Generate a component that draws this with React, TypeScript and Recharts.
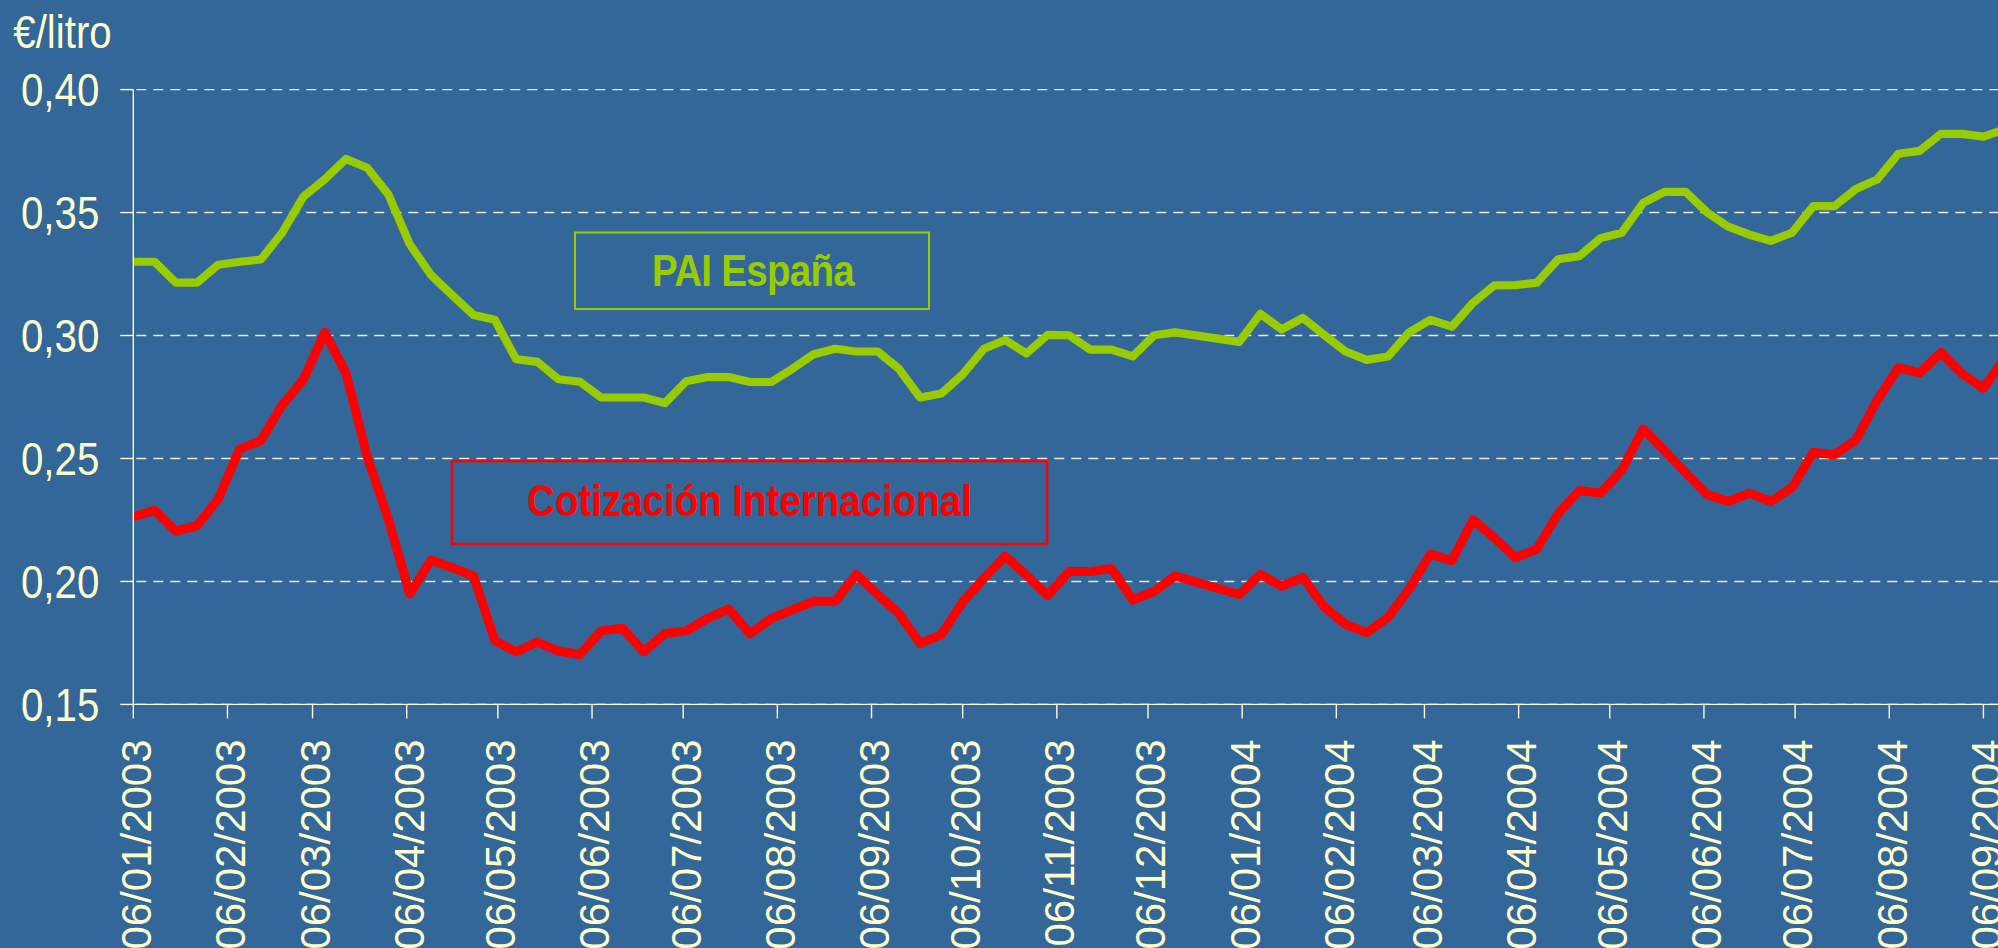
import React from "react";
import { LineChart, Line, XAxis, YAxis, CartesianGrid } from "recharts";

// Weekly quotation dates (DD/MM/YYYY)
const dates: string[] = [
  "06/01/2003", "13/01/2003", "20/01/2003", "27/01/2003", "03/02/2003", "10/02/2003", "17/02/2003", "24/02/2003",
  "03/03/2003", "10/03/2003", "17/03/2003", "24/03/2003", "31/03/2003", "07/04/2003", "14/04/2003", "21/04/2003",
  "28/04/2003", "05/05/2003", "12/05/2003", "19/05/2003", "26/05/2003", "02/06/2003", "09/06/2003", "16/06/2003",
  "23/06/2003", "30/06/2003", "07/07/2003", "14/07/2003", "21/07/2003", "28/07/2003", "04/08/2003", "11/08/2003",
  "18/08/2003", "25/08/2003", "01/09/2003", "08/09/2003", "15/09/2003", "22/09/2003", "29/09/2003", "06/10/2003",
  "13/10/2003", "20/10/2003", "27/10/2003", "03/11/2003", "10/11/2003", "17/11/2003", "24/11/2003", "01/12/2003",
  "08/12/2003", "15/12/2003", "05/01/2004", "12/01/2004", "19/01/2004", "26/01/2004", "02/02/2004", "09/02/2004",
  "16/02/2004", "23/02/2004", "01/03/2004", "08/03/2004", "15/03/2004", "22/03/2004", "29/03/2004", "05/04/2004",
  "12/04/2004", "19/04/2004", "26/04/2004", "03/05/2004", "10/05/2004", "17/05/2004", "24/05/2004", "31/05/2004",
  "07/06/2004", "14/06/2004", "21/06/2004", "28/06/2004", "05/07/2004", "12/07/2004", "19/07/2004", "26/07/2004",
  "02/08/2004", "09/08/2004", "16/08/2004", "23/08/2004", "30/08/2004", "06/09/2004", "13/09/2004",
];

// PAI España (€/litro)
const paiEspana: number[] = [
  0.330, 0.330, 0.3215, 0.3215, 0.3288, 0.330, 0.3309, 0.3418,
  0.3565, 0.3635, 0.3718, 0.3682, 0.3573, 0.3371, 0.3246, 0.3164,
  0.3083, 0.3064, 0.2904, 0.2893, 0.2822, 0.2812, 0.2748, 0.2748,
  0.2748, 0.2725, 0.2814, 0.2831, 0.2831, 0.2811, 0.2811, 0.2865,
  0.2924, 0.2946, 0.2935, 0.2935, 0.2865, 0.2748, 0.2764, 0.2842,
  0.2946, 0.2982, 0.2927, 0.3003, 0.3001, 0.2943, 0.2943, 0.2915,
  0.3001, 0.3013, 0.2974, 0.3088, 0.3025, 0.3072, 0.3002, 0.2935,
  0.2901, 0.2915, 0.3013, 0.3064, 0.3036, 0.3133, 0.3204, 0.3205,
  0.3215, 0.3310, 0.3323, 0.3396, 0.3418, 0.3539, 0.3584, 0.3584,
  0.3501, 0.3443, 0.3410, 0.3385, 0.3418, 0.3526, 0.3526, 0.3596,
  0.3634, 0.3739, 0.3751, 0.3820, 0.3820, 0.3809, 0.3838,
];

// Cotización Internacional (€/litro)
const cotizacion: number[] = [
  0.2263, 0.2289, 0.2204, 0.2227, 0.2336, 0.2538, 0.2573, 0.2717,
  0.2822, 0.3013, 0.2847, 0.2507, 0.2251, 0.1950, 0.2087, 0.2056,
  0.2022, 0.1760, 0.1714, 0.1753, 0.1717, 0.1703, 0.1799, 0.1810,
  0.1714, 0.1788, 0.1799, 0.1850, 0.1888, 0.1787, 0.1850, 0.1885,
  0.1919, 0.1919, 0.2028, 0.1947, 0.1869, 0.1748, 0.1784, 0.1916,
  0.2013, 0.2103, 0.2025, 0.1943, 0.2040, 0.2040, 0.2053, 0.1924,
  0.1960, 0.2022, 0.1947, 0.2028, 0.1981, 0.2017, 0.1897, 0.1826,
  0.1792, 0.1854, 0.1970, 0.2111, 0.2084, 0.2251, 0.2177, 0.2097,
  0.2132, 0.2276, 0.2370, 0.2359, 0.2453, 0.2620, 0.2532, 0.2442,
  0.2354, 0.2325, 0.2359, 0.2325, 0.2382, 0.2525, 0.2515, 0.2575,
  0.2736, 0.2869, 0.2848, 0.2931, 0.2844, 0.2786, 0.2907,
];

// X tick labels
const xTickLabels: string[] = [
  "06/01/2003", "06/02/2003", "06/03/2003", "06/04/2003", "06/05/2003", "06/06/2003", "06/07/2003",
  "06/08/2003", "06/09/2003", "06/10/2003", "06/11/2003", "06/12/2003", "06/01/2004", "06/02/2004",
  "06/03/2004", "06/04/2004", "06/05/2004", "06/06/2004", "06/07/2004", "06/08/2004", "06/09/2004",
];

const yTicks: number[] = [0.15, 0.2, 0.25, 0.3, 0.35, 0.4];

const DAY0 = Date.UTC(2003, 0, 6);
const toDay = (s: string): number => {
  const [d, m, y] = s.split("/").map(Number);
  return (Date.UTC(y, m - 1, d) - DAY0) / 86400000;
};

const data = dates.map((s, i) => ({
  d: toDay(s),
  pai: paiEspana[i],
  cot: cotizacion[i],
}));

const tickDays = xTickLabels.map(toDay);
const tickLabelByDay = new Map<number, string>(xTickLabels.map((l) => [toDay(l), l]));

const FONT = "'Liberation Sans', Arial, Helvetica, sans-serif";
const TEXT = "#FFFFCC";
const BG = "#336699";
const GREEN = "#99CC00";
const RED = "#FF0000";
const SQUEEZE = 0.875;

const XTick = (props: any) => {
  const { x, y, payload } = props;
  const tx = x + 17.4;
  const ty = y + 21;
  return (
    <text
      x={tx}
      y={ty}
      transform={`rotate(-90 ${tx} ${ty})`}
      textAnchor="end"
      fill={TEXT}
      fontSize={42}
      fontFamily={FONT}
    >
      {tickLabelByDay.get(payload.value) ?? ""}
    </text>
  );
};

const YTick = (props: any) => {
  const { x, y, payload } = props;
  return (
    <text
      transform={`translate(${x} ${y}) scale(${SQUEEZE} 1)`}
      x={0}
      y={0}
      dy="0.355em"
      textAnchor="end"
      fill={TEXT}
      fontSize={46}
      fontFamily={FONT}
    >
      {Number(payload.value).toFixed(2).replace(".", ",")}
    </text>
  );
};

export default function App() {
  return (
    <div
      style={{
        position: "fixed",
        left: 0,
        top: 0,
        width: 1998,
        height: 948,
        background: BG,
        overflow: "hidden",
      }}
    >
      <LineChart
        width={1998}
        height={948}
        data={data}
        margin={{ top: 89.6, right: 0, bottom: 0, left: 0 }}
      >
        <CartesianGrid
          vertical={false}
          stroke="#ECECD6"
          strokeWidth={1.4}
          strokeDasharray="10 7"
          strokeDashoffset={-3}
        />
        <XAxis
          dataKey="d"
          type="number"
          domain={[0, 613.8]}
          allowDataOverflow
          ticks={tickDays}
          interval={0}
          height={243.6}
          tickSize={14}
          tickMargin={0}
          axisLine={{ stroke: TEXT, strokeWidth: 1.4 }}
          tickLine={{ stroke: TEXT, strokeWidth: 1.4 }}
          tick={(p: any) => <XTick {...p} />}
        />
        <YAxis
          type="number"
          domain={[0.15, 0.4]}
          ticks={yTicks}
          interval={0}
          width={133.3}
          tickSize={13}
          tickMargin={21}
          axisLine={{ stroke: TEXT, strokeWidth: 1.4 }}
          tickLine={{ stroke: TEXT, strokeWidth: 1.4 }}
          tick={(p: any) => <YTick {...p} />}
        />
        <Line
          type="linear"
          dataKey="pai"
          stroke={GREEN}
          strokeWidth={8.2}
          strokeLinejoin="round"
          dot={false}
          activeDot={false}
          isAnimationActive={false}
        />
        <Line
          type="linear"
          dataKey="cot"
          stroke={RED}
          strokeWidth={9}
          strokeLinejoin="round"
          dot={false}
          activeDot={false}
          isAnimationActive={false}
        />
      </LineChart>
      <svg
        width={1998}
        height={948}
        style={{ position: "absolute", left: 0, top: 0, pointerEvents: "none" }}
      >
        <text
          transform={`translate(13.3 47.7) scale(${SQUEEZE} 1)`}
          x={0}
          y={0}
          fill={TEXT}
          fontSize={46}
          fontFamily={FONT}
        >
          €/litro
        </text>
        <rect x={575} y={232.5} width={354} height={76.5} fill="none" stroke={GREEN} strokeWidth={2} />
        <text
          transform={`translate(753 285.7) scale(${SQUEEZE} 1)`}
          x={0}
          y={0}
          textAnchor="middle"
          fill={GREEN}
          fontSize={44}
          fontWeight="bold"
          fontFamily={FONT}
          letterSpacing={-0.8}
        >
          PAI España
        </text>
        <rect x={452} y={461} width={595} height={83} fill="none" stroke={RED} strokeWidth={2.5} />
        <text
          transform={`translate(749.5 516) scale(${SQUEEZE} 1)`}
          x={0}
          y={0}
          textAnchor="middle"
          fill={RED}
          fontSize={44}
          fontWeight="bold"
          fontFamily={FONT}
        >
          Cotización Internacional
        </text>
      </svg>
    </div>
  );
}
